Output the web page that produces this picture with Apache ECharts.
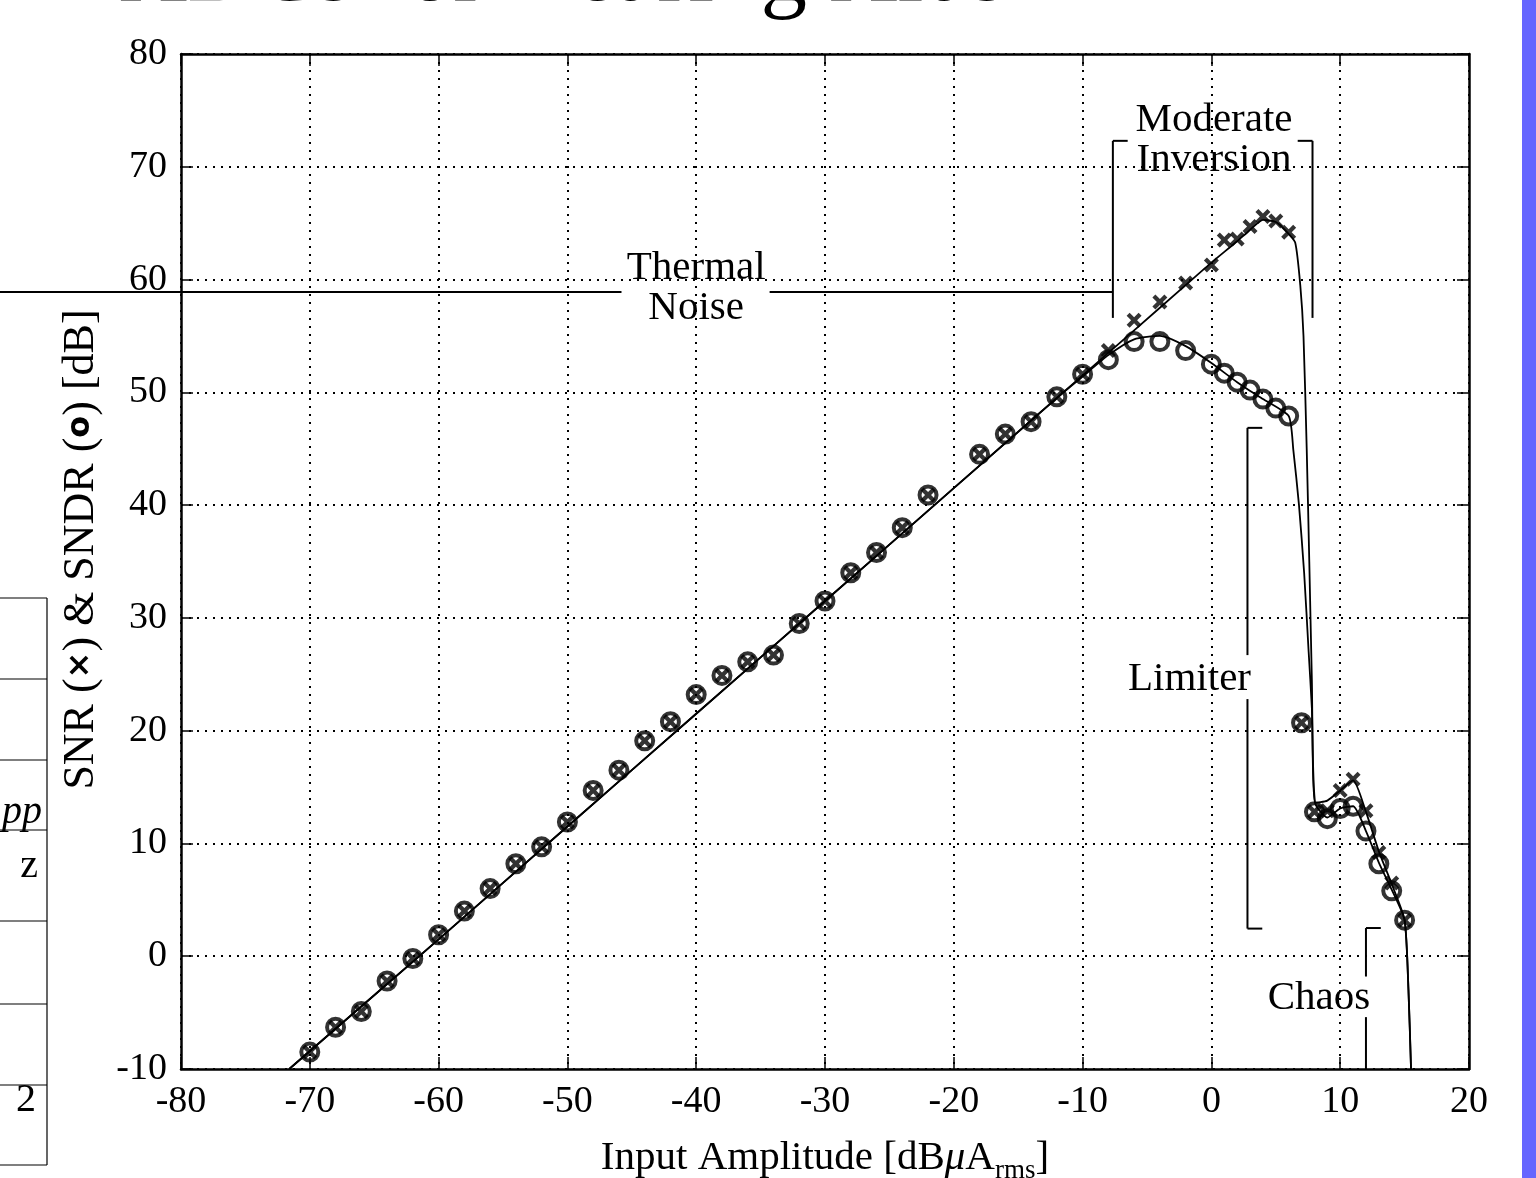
<!DOCTYPE html>
<html>
<head>
<meta charset="utf-8">
<script src="https://cdn.jsdelivr.net/npm/echarts@6/dist/echarts.min.js"></script>
<style>
  html, body { margin: 0; padding: 0; background: #fff; }
  #chart { width: 1536px; height: 1178px; }
</style>
</head>
<body>
<div id="chart"></div>
<script>
// measured points (input amplitude in dBuA rms)
const inputAmp = [-70, -68, -66, -64, -62, -60, -58, -56, -54, -52, -50, -48, -46, -44, -42, -40, -38, -36, -34, -32,
  -30, -28, -26, -24, -22, -18, -16, -14, -12, -10, -8, -6, -4, -2, 0, 1, 2, 3, 4, 5, 6, 7, 8, 9, 10, 11, 12, 13, 14, 15];
const snrValues = [-8.5, -6.3, -4.9, -2.2, -0.2, 1.9, 4.0, 6.0, 8.2, 9.7, 11.9, 14.7, 16.5, 19.1, 20.8, 23.2, 24.9, 26.1, 26.7, 29.5,
  31.5, 34.0, 35.8, 38.0, 40.9, 44.5, 46.3, 47.4, 49.6, 51.6, 53.7, 56.4, 58.0, 59.7, 61.3, 63.5, 63.6, 64.7, 65.6, 65.2, 64.2,
  20.7, 12.8, 12.9, 14.7, 15.7, 12.9, 9.2, 6.5, 3.2];
const sndrValues = [-8.5, -6.3, -4.9, -2.2, -0.2, 1.9, 4.0, 6.0, 8.2, 9.7, 11.9, 14.7, 16.5, 19.1, 20.8, 23.2, 24.9, 26.1, 26.7, 29.5,
  31.5, 34.0, 35.8, 38.0, 40.9, 44.5, 46.3, 47.4, 49.6, 51.6, 52.9, 54.5, 54.5, 53.7, 52.5, 51.7, 50.9, 50.2, 49.4, 48.6, 47.9,
  20.7, 12.8, 12.2, 13.1, 13.3, 11.1, 8.2, 5.8, 3.2];

// fitted curves (thin black lines)
const snrFitX = [-71.6, -60, -50, -40, -30, -20, -10, -6, -2, 0, 2, 3, 4, 5, 5.8, 6.5, 6.9, 7.15, 7.4, 7.6, 7.8, 8.05, 9, 10, 11, 12, 13, 14, 15, 15.3, 15.5];
const snrFitY = [-10, 1.5, 11.5, 21.5, 31.5, 41.5, 51.5, 55.5, 59.5, 61.5, 63.4, 64.4, 65.3, 65.1, 64.3, 63.3, 59.5, 55, 45, 35, 24.5, 13.6, 13.8, 14.7, 15.6, 12.8, 9.3, 6.4, 3.2, -3, -10];
const sndrFitX = [-71.6, -60, -50, -40, -30, -20, -12, -10, -8, -6, -4, -2, 0, 2, 4, 6, 6.36, 6.8, 7.2, 7.55, 7.8, 8.05, 9, 10, 11, 12, 13, 14, 15, 15.3, 15.5];
const sndrFitY = [-10, 1.5, 11.5, 21.5, 31.5, 41.5, 49.5, 51.4, 53.3, 54.7, 55.0, 54.1, 52.6, 50.9, 49.4, 47.9, 44.9, 40, 34, 27, 22, 13.6, 12.3, 13.1, 13.3, 11.1, 8.3, 5.9, 3.2, -3, -10];

const xTicks = { min: -80, max: 20, interval: 10 };
const yTicks = { min: -10, max: 80, interval: 10 };

const SERIF = 'Liberation Serif';
const crossPath = 'path://M2,0 L5,3 L8,0 L10,2 L7,5 L10,8 L8,10 L5,7 L2,10 L0,8 L3,5 L0,2 Z';

function zip(xs, ys) {
  return xs.map((x, i) => [x, ys[i]]);
}

const chart = echarts.init(document.getElementById('chart'));

const tickStyle = { show: true, inside: true, length: 12, lineStyle: { color: '#000', width: 1.5 } };
const lineStyleAxis = { show: true, onZero: false, lineStyle: { color: '#000', width: 2.5 } };
const dotted = { show: true, lineStyle: { color: '#000', width: 2, type: [2, 6] } };

const option = {
  animation: false,
  backgroundColor: '#fff',
  grid: { left: 181, right: 67, top: 54, bottom: 109, outerBoundsMode: 'none', containLabel: false },
  xAxis: [{
    type: 'value', min: xTicks.min, max: xTicks.max, interval: xTicks.interval,
    axisLine: lineStyleAxis, axisTick: tickStyle, splitLine: dotted,
    axisLabel: { color: '#000', fontFamily: SERIF, fontSize: 38, margin: 14, showMinLabel: true, showMaxLabel: true },
    name: 'Input Amplitude [dB{mu|μ}A{sub|rms}]',
    nameLocation: 'middle', nameGap: 64,
    nameTextStyle: {
      color: '#000', fontFamily: SERIF, fontSize: 41,
      rich: {
        mu: { fontFamily: SERIF, fontStyle: 'italic', fontSize: 41, color: '#000' },
        sub: { fontFamily: SERIF, fontSize: 27, color: '#000', verticalAlign: 'bottom', padding: [24, 0, 0, 0] }
      }
    }
  }, {
    type: 'value', position: 'top', min: xTicks.min, max: xTicks.max, interval: xTicks.interval,
    axisLine: lineStyleAxis, axisTick: tickStyle, splitLine: { show: false }, axisLabel: { show: false }
  }],
  yAxis: [{
    type: 'value', min: yTicks.min, max: yTicks.max, interval: yTicks.interval,
    axisLine: lineStyleAxis, axisTick: tickStyle, splitLine: dotted,
    axisLabel: { color: '#000', fontFamily: SERIF, fontSize: 38, margin: 14, showMinLabel: true, showMaxLabel: true },
    name: 'SNR ({b|×}) & SNDR ({b|o}) [dB]',
    nameLocation: 'middle', nameGap: 78, nameRotate: 90,
    nameTextStyle: {
      color: '#000', fontFamily: SERIF, fontSize: 44, padding: [0, 0, 0, 24],
      rich: { b: { fontFamily: 'DejaVu Sans', fontWeight: 'bold', fontSize: 32, color: '#000' } }
    }
  }, {
    type: 'value', position: 'right', min: yTicks.min, max: yTicks.max, interval: yTicks.interval,
    axisLine: lineStyleAxis, axisTick: tickStyle, splitLine: { show: false }, axisLabel: { show: false }
  }],
  series: [{
    name: 'SNR fit', type: 'line', data: zip(snrFitX, snrFitY),
    showSymbol: false, smooth: 0.2,
    lineStyle: { color: '#000', width: 1.8 }, z: 2
  }, {
    name: 'SNDR fit', type: 'line', data: zip(sndrFitX, sndrFitY),
    showSymbol: false, smooth: 0.2,
    lineStyle: { color: '#000', width: 1.8 }, z: 2
  }, {
    name: 'SNDR', type: 'scatter', data: zip(inputAmp, sndrValues),
    symbol: 'circle', symbolSize: 17,
    itemStyle: { color: 'rgba(0,0,0,0)', borderColor: '#000', borderWidth: 4 }, z: 3
  }, {
    name: 'SNR', type: 'scatter', data: zip(inputAmp, snrValues),
    symbol: crossPath, symbolSize: 15,
    itemStyle: { color: '#000' }, z: 4
  }]
};

chart.setOption(option);

// annotation brackets, in data units
const px = (x, y) => chart.convertToPixel({ gridIndex: 0 }, [x, y]);
const black = { stroke: '#000', lineWidth: 2 };
function seg(a, b) {
  return { type: 'line', z: 10, shape: { x1: a[0], y1: a[1], x2: b[0], y2: b[1] }, style: black };
}
function label(text, p, size) {
  return { type: 'text', z: 10, x: p[0], y: p[1],
    style: { text: text, fill: '#000', font: size + 'px "' + SERIF + '"', align: 'center', verticalAlign: 'middle' } };
}

const thermalY = 58.9;
const mod = { left: -7.65, right: 7.85, top: 72.3, bottom: 56.6, tick: 1.15 };
const lim = { x: 2.8, top: 46.85, bottom: 2.45, gapTop: 26.7, gapBottom: 22.8, tick: 1.15 };
const chaos = { x: 12.0, top: 2.5, bottom: -10, gapTop: -1.8, gapBottom: -5.4, tick: 1.15 };

const tl = px(-45.8, thermalY), tr = px(-34.3, thermalY), tb = px(mod.left, thermalY);
const graphics = [
  // thermal noise line
  seg([0, tl[1]], tl), seg(tr, tb),
  label('Thermal', px(-40, 61.0), 41), label('Noise', px(-40, 57.5), 41),
  // moderate inversion bracket
  seg(px(mod.left, mod.bottom), px(mod.left, mod.top)), seg(px(mod.left, mod.top), px(mod.left + mod.tick, mod.top)),
  seg(px(mod.right, mod.bottom), px(mod.right, mod.top)), seg(px(mod.right, mod.top), px(mod.right - mod.tick, mod.top)),
  label('Moderate', px(0.2, 74.1), 41), label('Inversion', px(0.2, 70.6), 41),
  // limiter bracket
  seg(px(lim.x, lim.top), px(lim.x, lim.gapTop)), seg(px(lim.x, lim.gapBottom), px(lim.x, lim.bottom)),
  seg(px(lim.x, lim.top), px(lim.x + lim.tick, lim.top)), seg(px(lim.x, lim.bottom), px(lim.x + lim.tick, lim.bottom)),
  label('Limiter', px(-1.7, 24.6), 41),
  // chaos bracket
  seg(px(chaos.x, chaos.top), px(chaos.x, chaos.gapTop)), seg(px(chaos.x, chaos.gapBottom), px(chaos.x, chaos.bottom)),
  seg(px(chaos.x, chaos.top), px(chaos.x + chaos.tick, chaos.top)),
  label('Chaos', px(8.35, -3.7), 41),
  // slide pieces around the chart
  { type: 'rect', z: 10, shape: { x: 1522, y: 0, width: 14, height: 1178 }, style: { fill: '#6666ff' } },
  { type: 'text', z: 10, x: 120, y: -24, style: { text: 'ADCs for Hearing Aids', fill: '#000', font: '93px "' + SERIF + '"', align: 'left', verticalAlign: 'middle' } },
  { type: 'text', z: 10, x: 40, y: -24, style: { text: 'ΣΔ', fill: '#000', font: 'bold 93px "' + SERIF + '"', align: 'right', verticalAlign: 'middle' } }
];

const tableRows = [598, 679, 760, 830, 921, 1004, 1085, 1165];
tableRows.forEach(y => graphics.push({ type: 'line', z: 10, shape: { x1: 0, y1: y, x2: 47, y2: y }, style: { stroke: '#000', lineWidth: 1.2 } }));
graphics.push({ type: 'line', z: 10, shape: { x1: 47, y1: tableRows[0], x2: 47, y2: tableRows[tableRows.length - 1] }, style: { stroke: '#000', lineWidth: 1.2 } });
graphics.push({ type: 'text', z: 10, x: 42, y: 812, style: { text: 'pp', fill: '#000', font: 'italic 40px "' + SERIF + '"', align: 'right', verticalAlign: 'middle' } });
graphics.push({ type: 'text', z: 10, x: 38, y: 866, style: { text: 'z', fill: '#000', font: '40px "' + SERIF + '"', align: 'right', verticalAlign: 'middle' } });
graphics.push({ type: 'text', z: 10, x: 36, y: 1100, style: { text: '2', fill: '#000', font: '40px "' + SERIF + '"', align: 'right', verticalAlign: 'middle' } });

chart.setOption({ graphic: graphics });
</script>
</body>
</html>
